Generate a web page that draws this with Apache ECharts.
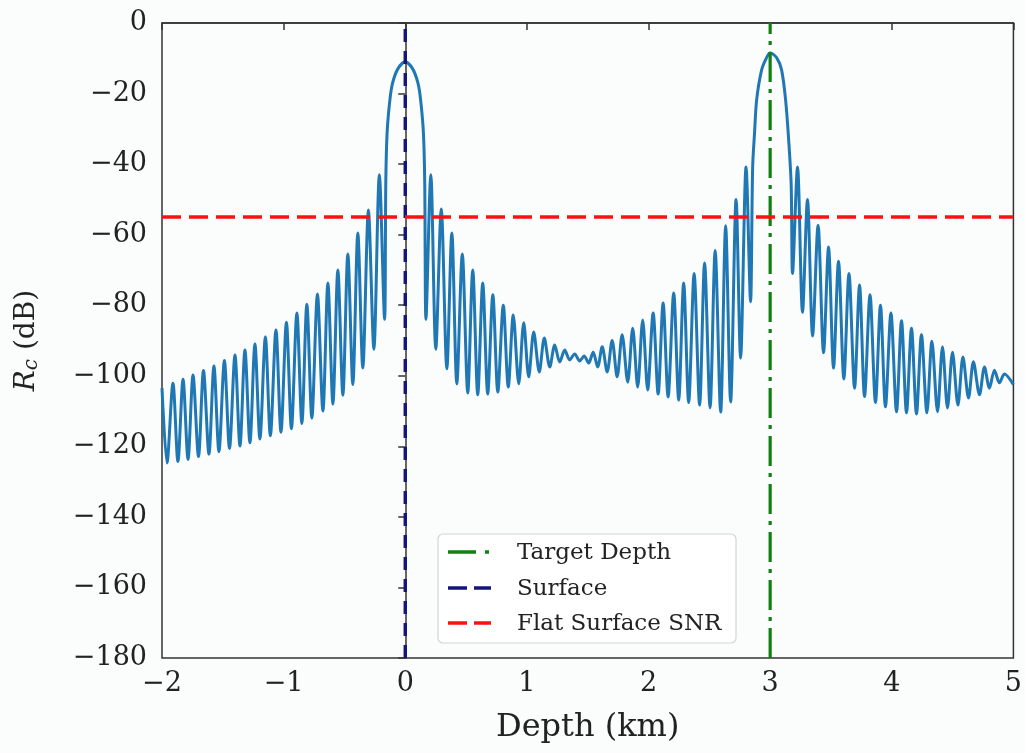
<!DOCTYPE html>
<html><head><meta charset="utf-8">
<script src="https://cdn.jsdelivr.net/npm/echarts@6/dist/echarts.min.js"></script>
<style>html,body{margin:0;padding:0;background:#fbfcfc}#c{width:1025px;height:753px}</style>
</head><body><div id="c"></div>
<script>
// Rc curve (peaks and nulls of each lobe), depth in km, Rc in dB
const depthKm = [
-2.000,-1.959,-1.910,-1.869,-1.827,-1.786,-1.745,-1.700,-1.659,-1.614,
-1.573,-1.532,-1.487,-1.445,-1.400,-1.359,-1.318,-1.277,-1.236,-1.195,
-1.150,-1.109,-1.063,-1.022,-0.977,-0.936,-0.891,-0.850,-0.809,-0.768,
-0.722,-0.677,-0.636,-0.595,-0.554,-0.513,-0.472,-0.431,-0.390,-0.349,
-0.303,-0.258,-0.213,-0.170,
-0.160,-0.149,-0.127,-0.104,-0.061,0.000,0.061,0.104,0.127,0.149,0.160,0.170,
0.210,0.251,0.296,0.342,0.383,0.424,0.469,0.514,0.555,0.596,
0.637,0.678,0.720,0.761,0.806,0.847,0.888,0.933,0.974,1.015,
1.056,1.102,1.143,1.188,1.229,1.270,1.311,1.352,1.393,1.434,
1.471,1.508,1.545,1.582,1.619,1.660,1.701,1.742,1.783,1.829,
1.870,1.911,1.952,1.993,2.038,2.079,2.120,2.161,2.207,2.248,
2.289,2.330,2.375,2.420,2.461,2.506,2.548,2.593,2.634,2.675,
2.720,2.757,2.802,2.839,
2.856,2.872,2.889,2.930,2.971,3.001,3.053,3.094,3.127,3.152,3.173,3.184,
3.225,3.266,3.307,3.349,3.394,3.439,3.480,3.521,3.562,3.606,
3.648,3.694,3.735,3.776,3.821,3.866,3.907,3.948,3.993,4.039,
4.080,4.121,4.162,4.203,4.244,4.289,4.330,4.376,4.417,4.458,
4.499,4.544,4.585,4.631,4.671,4.721,4.762,4.803,4.844,4.885,
4.926,5.000
];
const rcDb = [
-103.5,-124.7,-102.1,-124.3,-101.0,-123.7,-99.8,-122.9,-98.5,-122.2,
-97.2,-121.5,-95.7,-120.6,-94.1,-119.9,-92.7,-119.0,-91.0,-117.9,
-89.0,-117.0,-87.0,-116.0,-84.8,-115.0,-82.2,-113.5,-79.7,-112.0,
-76.8,-110.0,-73.7,-108.0,-70.0,-105.5,-65.5,-102.5,-59.5,-97.8,
-53.0,-92.5,-43.0,-84.0,
-45,-31,-22,-17,-13,-11,-13,-17,-22,-31,-45,-84,
-43,-92.5,-52.7,-98,-59.5,-102.3,-65.5,-104.9,-70,-105.4,
-73.7,-105.2,-77,-104.6,-80,-103.2,-82.8,-102.3,-85,-100.3,
-87.6,-98.9,-89.3,-97.5,-91.3,-96.1,-92.7,-95.5,-93.8,-95.8,
-94.4,-96.4,-93.3,-97.5,-91.8,-98.9,-90,-100.3,-88.4,-101.8,
-86.5,-103.2,-84.2,-104,-82.2,-105.2,-79.4,-106,-76.5,-106.9,
-73.7,-107.6,-71,-108.3,-68,-109.1,-64.5,-110.3,-57.5,-107.4,
-50,-95,-40.8,-79,
-41,-31,-21.8,-13.3,-9.8,-8.5,-9.8,-13.3,-21.8,-33,-46,-71,
-40.8,-82,-50,-88.7,-57.3,-93.5,-63.5,-97.8,-67.5,-100.9,
-71,-103.5,-74.3,-105.9,-77,-107.6,-80,-108.8,-82.2,-110.2,
-84.4,-110.5,-86.5,-110.8,-88.4,-110.5,-90.2,-110.2,-91.8,-109.1,
-93.3,-108.3,-94.7,-106.3,-96,-105.4,-97.5,-103.5,-98.4,-102,
-99.5,-102.5
];
const surfaceDepth = 0;        // km
const targetDepth = 3;         // km
const flatSurfaceSnr = -55;    // dB
const xRange = [-2, 5];
const yRange = [-180, 0];
const legendNames = ['Target Depth', 'Surface', 'Flat Surface SNR'];
const xName = 'Depth (km)';

const FONT = 'DejaVu Serif';
const minus = v => String(v).replace('-', '\u2212');
const curve = depthKm.map((d, i) => [d, rcDb[i]]);

const chart = echarts.init(document.getElementById('c'), null, {renderer: 'canvas'});
chart.setOption({
  animation: false,
  backgroundColor: '#fbfcfc',
  grid: {left: 162, right: 11, top: 23, bottom: 95, show: true, borderColor: '#333', borderWidth: 1.5, backgroundColor: 'transparent'},
  xAxis: {
    type: 'value', min: xRange[0], max: xRange[1], interval: 1,
    name: xName, nameLocation: 'middle', nameGap: 54,
    nameTextStyle: {fontFamily: FONT, fontSize: 32, color: '#222'},
    axisLine: {lineStyle: {color: '#333', width: 1.5}},
    axisTick: {show: true, inside: false, length: 7, lineStyle: {color: '#333', width: 1.5}},
    axisLabel: {fontFamily: FONT, fontSize: 27, color: '#222', margin: 12, formatter: minus},
    splitLine: {show: false}
  },
  yAxis: {
    type: 'value', min: yRange[0], max: yRange[1], interval: 20,
    name: '{i|R}{s|c} (dB)', nameLocation: 'middle', nameGap: 120, nameRotate: 90,
    nameTextStyle: {fontFamily: FONT, fontSize: 28, color: '#222',
      rich: {i: {fontFamily: FONT, fontStyle: 'italic', fontSize: 28, color: '#222'},
             s: {fontFamily: FONT, fontStyle: 'italic', fontSize: 20, color: '#222', verticalAlign: 'bottom', padding: [10, 0, 0, 0]}}},
    axisLine: {lineStyle: {color: '#333', width: 1.5}},
    axisTick: {show: true, inside: false, length: 7, lineStyle: {color: '#333', width: 1.5}},
    axisLabel: {fontFamily: FONT, fontSize: 27, color: '#222', margin: 15, formatter: minus},
    splitLine: {show: false}
  },
  series: [
    {type: 'line', name: 'Rc', data: curve, showSymbol: false, smooth: 0.3,
     lineStyle: {color: '#1f77b4', width: 3}, z: 2},
    {type: 'line', name: legendNames[1], data: [[surfaceDepth, yRange[0]], [surfaceDepth, yRange[1]]], showSymbol: false,
     lineStyle: {color: '#14147a', width: 3.4, type: [13, 9]}, z: 3},
    {type: 'line', name: legendNames[0], data: [[targetDepth, yRange[0]], [targetDepth, yRange[1]]], showSymbol: false,
     lineStyle: {color: '#108010', width: 3.2, type: [30, 7, 4, 7]}, z: 3},
    {type: 'line', name: legendNames[2], data: [[xRange[0], flatSurfaceSnr], [xRange[1], flatSurfaceSnr]], showSymbol: false,
     lineStyle: {color: '#ff1010', width: 3.5, type: [19, 8]}, z: 4}
  ],
  graphic: [
    {type: 'rect', z: 10, shape: {x: 438, y: 534, width: 298, height: 109, r: 5},
     style: {fill: 'rgba(255,255,255,0.85)', stroke: '#d4d4d4', lineWidth: 1.2}},
    {type: 'line', z: 11, shape: {x1: 448, y1: 552, x2: 491, y2: 552}, style: {stroke: '#108010', lineWidth: 3.5, lineDash: [28, 9, 4, 7]}},
    {type: 'line', z: 11, shape: {x1: 448, y1: 588, x2: 491, y2: 588}, style: {stroke: '#14147a', lineWidth: 3.5, lineDash: [19, 7]}},
    {type: 'line', z: 11, shape: {x1: 448, y1: 623, x2: 491, y2: 623}, style: {stroke: '#ff1010', lineWidth: 3.5, lineDash: [19, 7]}},
    {type: 'text', z: 11, style: {text: legendNames[0], x: 517, y: 553, fill: '#222', fontFamily: FONT, fontSize: 23, verticalAlign: 'middle'}},
    {type: 'text', z: 11, style: {text: legendNames[1], x: 517, y: 589, fill: '#222', fontFamily: FONT, fontSize: 23, verticalAlign: 'middle'}},
    {type: 'text', z: 11, style: {text: legendNames[2], x: 517, y: 624, fill: '#222', fontFamily: FONT, fontSize: 23, verticalAlign: 'middle'}}
  ]
});
</script></body></html>
